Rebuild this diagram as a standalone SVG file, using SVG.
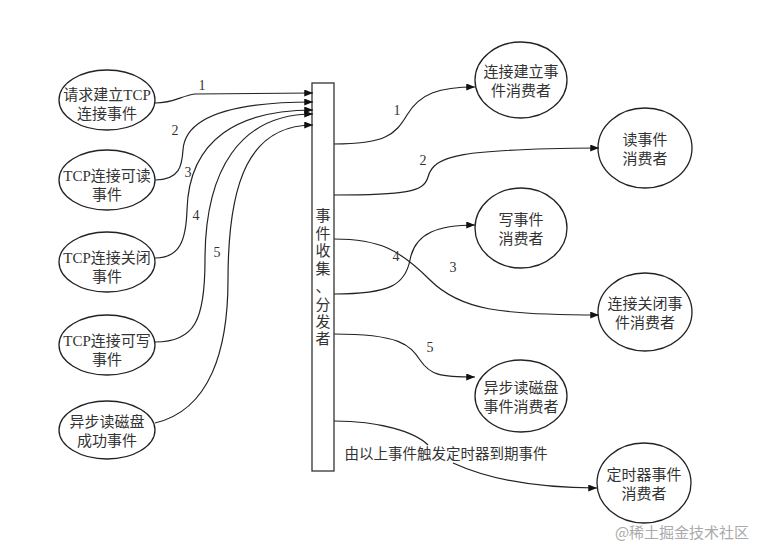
<svg xmlns="http://www.w3.org/2000/svg" width="771" height="559" viewBox="0 0 771 559">
<style>
.n ellipse{fill:#fff;stroke:#222;stroke-width:1.3}
.t{font-family:"Liberation Serif","Noto Sans CJK SC",serif;font-size:15px;fill:#333;text-anchor:middle}
.lb{font-family:"Liberation Serif","Noto Sans CJK SC",serif;font-size:14px;fill:#333;text-anchor:middle}
.c path{fill:none;stroke:#222;stroke-width:1.2}
</style>
<defs>
<marker id="ah" viewBox="0 0 10 8" refX="10" refY="4" markerWidth="9" markerHeight="7" markerUnits="userSpaceOnUse" orient="auto">
<path d="M0,0 L10,4 L0,8 z" fill="#111"/>
</marker>
</defs>
<rect width="771" height="559" fill="#fff"/>
<g id="hub"><rect x="312" y="83" width="22" height="388" fill="#fff" stroke="#333" stroke-width="1.3"/>
<g class="t"><text x="323" y="221">事</text><text x="323" y="239">件</text><text x="323" y="256">收</text><text x="323" y="274">集</text><text x="323" y="292">、</text><text x="323" y="310">分</text><text x="323" y="327">发</text><text x="323" y="344">者</text></g></g>
<g id="L1" class="n"><ellipse cx="107" cy="100" rx="48" ry="30"/><text class="t" x="107" y="100">请求建立TCP</text><text class="t" x="107" y="119">连接事件</text></g>
<g id="L2" class="n"><ellipse cx="107" cy="180" rx="48" ry="30"/><text class="t" x="107" y="181">TCP连接可读</text><text class="t" x="107" y="200">事件</text></g>
<g id="L3" class="n"><ellipse cx="107" cy="262" rx="48" ry="30"/><text class="t" x="107" y="263">TCP连接关闭</text><text class="t" x="107" y="282">事件</text></g>
<g id="L4" class="n"><ellipse cx="107" cy="345" rx="48" ry="30"/><text class="t" x="107" y="346">TCP连接可写</text><text class="t" x="107" y="365">事件</text></g>
<g id="L5" class="n"><ellipse cx="107" cy="430" rx="48" ry="29"/><text class="t" x="107" y="427">异步读磁盘</text><text class="t" x="107" y="446">成功事件</text></g>
<g id="R1" class="n"><ellipse cx="521" cy="80" rx="46" ry="38"/><text class="t" x="521" y="77">连接建立事</text><text class="t" x="521" y="96">件消费者</text></g>
<g id="R2" class="n"><ellipse cx="645" cy="148" rx="47" ry="40"/><text class="t" x="645" y="145">读事件</text><text class="t" x="645" y="164">消费者</text></g>
<g id="R3" class="n"><ellipse cx="521" cy="228" rx="46" ry="40"/><text class="t" x="521" y="225">写事件</text><text class="t" x="521" y="244">消费者</text></g>
<g id="R4" class="n"><ellipse cx="645" cy="312" rx="47" ry="39"/><text class="t" x="645" y="309">连接关闭事</text><text class="t" x="645" y="328">件消费者</text></g>
<g id="R5" class="n"><ellipse cx="521" cy="396" rx="46" ry="36"/><text class="t" x="521" y="393">异步读磁盘</text><text class="t" x="521" y="412">事件消费者</text></g>
<g id="R6" class="n"><ellipse cx="644" cy="483" rx="47" ry="40"/><text class="t" x="644" y="480">定时器事件</text><text class="t" x="644" y="499">消费者</text></g>
<g id="connectors" class="c">
<path d="M155,103 C175,103 180,96 195,94 L313,93" marker-end="url(#ah)"/>
<path d="M155,180 C180,180 182,165 183,150 C185,118 230,102 313,102" marker-end="url(#ah)"/>
<path d="M155,258 C180,258 186,240 187,210 C189,138 240,110 313,110" marker-end="url(#ah)"/>
<path d="M155,342 C195,342 205,320 205,260 C205,170 240,114 313,114" marker-end="url(#ah)"/>
<path d="M155,423 C210,410 228,350 228,280 C228,180 250,125 313,125" marker-end="url(#ah)"/>
<path d="M334,144 C385,144 395,135 407,115 C420,93 440,87 475,87" marker-end="url(#ah)"/>
<path d="M334,195 C405,195 424,192 428,177 C434,155 460,149 599,148" marker-end="url(#ah)"/>
<path d="M334,239 C380,239 400,250 430,280 C460,310 500,315 599,315" marker-end="url(#ah)"/>
<path d="M334,294 C390,294 405,285 410,260 C415,232 440,225 475,225" marker-end="url(#ah)"/>
<path d="M334,334 C400,334 410,345 420,360 C430,375 440,377 475,377" marker-end="url(#ah)"/>
<path d="M334,421 C380,421 415,432 428,445"/>
<path d="M453,463 C490,480 540,488 597,488" marker-end="url(#ah)"/>
</g>
<g id="labels" class="lb">
<text x="202" y="90">1</text><text x="175" y="135">2</text><text x="188" y="177">3</text><text x="196" y="220">4</text><text x="217" y="257">5</text>
<text x="397" y="115">1</text><text x="423" y="165">2</text><text x="453" y="272">3</text><text x="396" y="261">4</text><text x="430" y="352">5</text>
<text x="446" y="459" style="font-size:14.5px">由以上事件触发定时器到期事件</text>
</g>
<text x="682" y="538" style="font-family:'Noto Sans CJK SC',sans-serif;font-size:15px;fill:#aaa;text-anchor:middle">@稀土掘金技术社区</text>
</svg>
